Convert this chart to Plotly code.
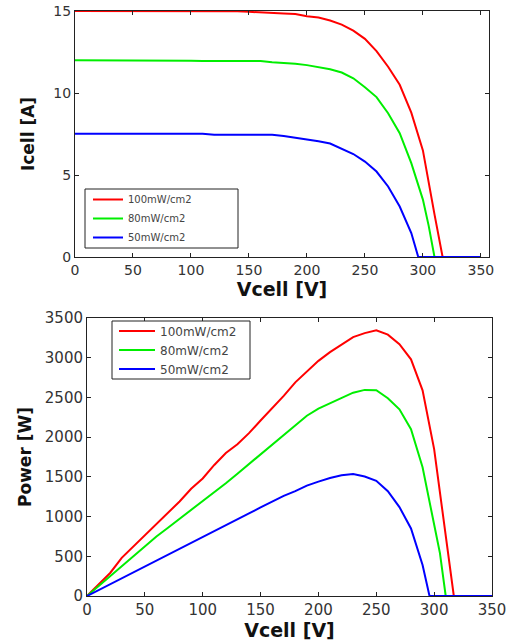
import plotly.graph_objects as go

# ---- data ----
labels = ["100mW/cm2", "80mW/cm2", "50mW/cm2"]
colors = ["#ff0000", "#00ee00", "#0000ff"]

v_100 = [0, 10, 20, 30, 40, 50, 60, 70, 80, 90, 100, 110, 120, 130, 140, 150, 160, 170, 180, 190,
         200, 210, 220, 230, 240, 250, 260, 270, 280, 290, 300, 310, 317, 350]
i_100 = [15.0, 15.0, 15.0, 15.0, 15.0, 15.0, 15.0, 15.0, 15.0, 15.0, 15.0, 15.0, 15.0, 15.0, 14.98, 14.95,
         14.93, 14.9, 14.85, 14.82, 14.68, 14.6, 14.42, 14.17, 13.8, 13.3, 12.55, 11.6, 10.5, 8.8, 6.5, 2.6, 0, 0]
p_100 = [0, 150, 290, 480, 620, 770, 910, 1040, 1190, 1350, 1480, 1650, 1800, 1910, 2050, 2210,
         2365, 2520, 2690, 2830, 2960, 3070, 3170, 3260, 3310, 3345, 3290, 3170, 2980, 2590, 1850, 780, 0, 0]

v_80 = [0, 10, 20, 30, 40, 50, 60, 70, 80, 90, 100, 110, 120, 130, 140, 150, 160, 170, 180, 190,
        200, 210, 220, 230, 240, 250, 260, 270, 280, 290, 300, 305, 310, 350]
i_80 = [12.0, 12.0, 12.0, 12.0, 12.0, 12.0, 12.0, 12.0, 12.0, 12.0, 11.97, 11.95, 11.95, 11.95, 11.95, 11.95,
        11.95, 11.88, 11.85, 11.78, 11.7, 11.58, 11.45, 11.25, 10.9, 10.35, 9.75, 8.77, 7.55, 5.72, 3.5, 1.9, 0, 0]
p_80 = [0, 125, 250, 380, 510, 630, 750, 860, 970, 1080, 1190, 1300, 1420, 1540, 1660, 1790,
        1900, 2030, 2150, 2270, 2360, 2430, 2500, 2560, 2595, 2590, 2490, 2350, 2100, 1620, 900, 540, 0, 0]

v_50 = [0, 10, 20, 30, 40, 50, 60, 70, 80, 90, 100, 110, 120, 130, 140, 150, 160, 170, 180, 190,
        200, 210, 220, 230, 240, 250, 260, 270, 280, 290, 296, 350]
i_50 = [7.52, 7.52, 7.52, 7.52, 7.52, 7.52, 7.52, 7.52, 7.52, 7.52, 7.52, 7.52, 7.45, 7.45, 7.45, 7.45,
        7.45, 7.45, 7.38, 7.28, 7.2, 7.06, 6.92, 6.62, 6.28, 5.82, 5.21, 4.3, 3.08, 1.46, 0, 0]
p_50 = [0, 75, 150, 225, 300, 370, 450, 520, 590, 670, 750, 820, 900, 975, 1040, 1115,
        1190, 1260, 1320, 1390, 1440, 1485, 1520, 1535, 1505, 1450, 1320, 1120, 850, 390, 0, 0]

v_ticks = [0, 50, 100, 150, 200, 250, 300, 350]
i_ticks = [0, 5, 10, 15]
p_ticks = [0, 500, 1000, 1500, 2000, 2500, 3000, 3500]

# ---- figure ----
W, H = 509, 641
fig = go.Figure()

volts = [v_100, v_80, v_50]
currents = [i_100, i_80, i_50]
powers = [p_100, p_80, p_50]

for k in range(3):
    fig.add_trace(go.Scatter(x=volts[k], y=currents[k], mode="lines", name=labels[k],
                             line=dict(color=colors[k], width=2), xaxis="x", yaxis="y",
                             legend="legend"))
for k in range(3):
    fig.add_trace(go.Scatter(x=volts[k], y=powers[k], mode="lines", name=labels[k],
                             line=dict(color=colors[k], width=2), xaxis="x2", yaxis="y2",
                             legend="legend2"))

def px_x(a, b):
    return [a / W, b / W]

def px_y(top, bottom):
    return [(H - bottom) / H, (H - top) / H]

def fx(px):
    return px / W

def fy(py):
    return (H - py) / H

axis_common = dict(showline=True, linecolor="#222", linewidth=1, mirror="ticks",
                   ticks="inside", ticklen=4, tickcolor="#222", showgrid=False, zeroline=False,
                   automargin=False)

# legend frames (drawn as boxes, legends themselves borderless)
box_style = dict(type="rect", xref="paper", yref="paper", line=dict(color="#222", width=1),
                 fillcolor="white", layer="above")
shapes = [
    dict(x0=fx(85), x1=fx(238), y0=fy(248), y1=fy(189), **box_style),
    dict(x0=fx(112), x1=fx(250), y0=fy(379), y1=fy(321), **box_style),
]

fig.update_layout(
    width=W, height=H,
    margin=dict(l=0, r=0, t=0, b=0),
    paper_bgcolor="white", plot_bgcolor="white",
    font=dict(family="DejaVu Sans", color="#333"),
    shapes=shapes,
    xaxis=dict(domain=px_x(75, 489), anchor="y", range=[0, 357], tickvals=v_ticks,
               tickfont=dict(size=14, color="#333"),
               title=dict(text="<b>Vcell [V]</b>", font=dict(size=19, color="#111"), standoff=1),
               **axis_common),
    yaxis=dict(domain=px_y(11, 257), anchor="x", range=[0, 15], tickvals=i_ticks,
               tickfont=dict(size=14, color="#333"),
               title=dict(text="<b>Icell [A]</b>", font=dict(size=17, color="#111"), standoff=14),
               **axis_common),
    xaxis2=dict(domain=px_x(87, 492), anchor="y2", range=[0, 350], tickvals=v_ticks,
                tickfont=dict(size=15, color="#333"),
                title=dict(text="<b>Vcell [V]</b>", font=dict(size=19, color="#111"), standoff=5),
                **axis_common),
    yaxis2=dict(domain=px_y(318, 596), anchor="x2", range=[0, 3500], tickvals=p_ticks,
                tickfont=dict(size=15, color="#333"),
                title=dict(text="<b>Power [W]</b>", font=dict(size=17, color="#111"), standoff=8),
                **axis_common),
    legend=dict(x=fx(88), y=fy(218.5), xanchor="left", yanchor="middle",
                borderwidth=0, bgcolor="rgba(0,0,0,0)",
                font=dict(size=10, color="#444"), tracegroupgap=0),
    legend2=dict(x=fx(114), y=fy(350), xanchor="left", yanchor="middle",
                 borderwidth=0, bgcolor="rgba(0,0,0,0)", itemwidth=36,
                 font=dict(size=12, color="#444"), tracegroupgap=0),
)

fig.write_html("out.html", config={"displayModeBar": False},
               post_script="document.body.style.margin='0';")
